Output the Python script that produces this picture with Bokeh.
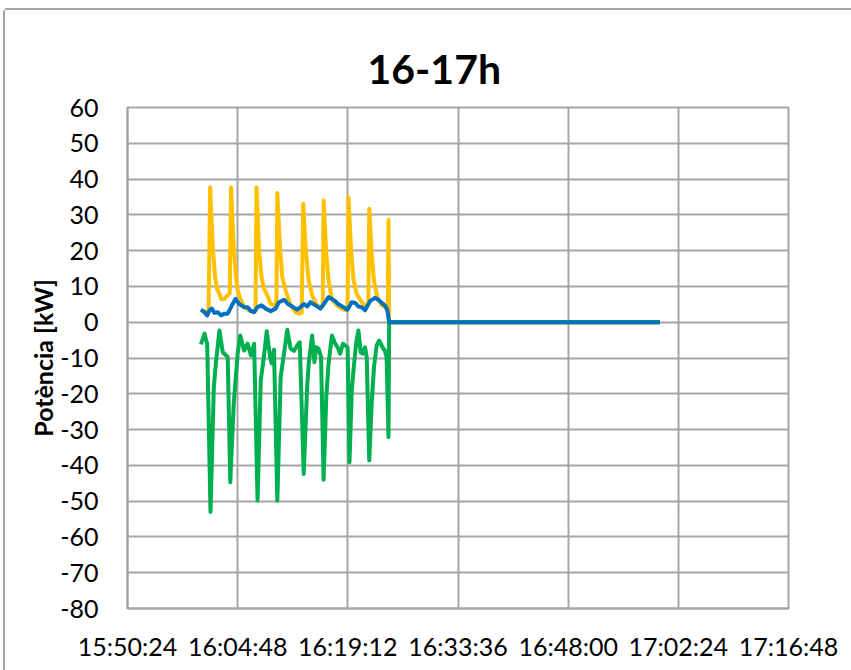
from bokeh.plotting import figure
from bokeh.models import FixedTicker, Range1d
from bokeh.embed import file_html
from bokeh.resources import INLINE

# ---------------- data ----------------
TITLE = "16-17h"
Y_LABEL = "Potència [kW]"
START = "16:00:00"  # series times are seconds after this

x_tick_labels = ["15:50:24", "16:04:48", "16:19:12", "16:33:36", "16:48:00", "17:02:24", "17:16:48"]
y_ticks = [-80, -70, -60, -50, -40, -30, -20, -10, 0, 10, 20, 30, 40, 50, 60]

yellow_t = [0, 45, 60, 72, 93, 111, 127, 145, 158, 184, 210, 226, 236, 257, 275, 288, 314, 339, 378, 417,
            428, 436, 456, 475, 495, 521, 547, 573, 592, 599, 620, 638, 664, 703, 742, 768, 790, 802, 820, 845,
            872, 911, 942, 955, 962, 983, 1001, 1027, 1066, 1105, 1139, 1150, 1157, 1178, 1196, 1222, 1261, 1300,
            1313, 1320, 1339, 1357, 1383, 1417, 1450, 1465, 1471, 1476, 3600]
yellow_kw = [3.3, 2.8, 3.3, 37.7, 21.0, 12.6, 9.3, 7.9, 6.5, 6.5, 7.5, 8.0, 37.7, 21.0, 12.6, 8.9, 6.1, 4.2, 3.3, 2.8,
             3.3, 37.7, 20.0, 12.6, 9.3, 7.5, 5.1, 4.7, 5.5, 36.1, 21.0, 12.6, 8.9, 4.7, 2.8, 2.4, 2.6, 33.1, 21.0, 11.7,
             7.5, 4.7, 4.2, 4.5, 34.0, 19.1, 11.7, 6.5, 4.7, 3.8, 3.3, 4.0, 34.9, 20.0, 12.0, 7.9, 5.6, 4.2,
             5.0, 31.7, 19.1, 11.7, 7.0, 4.7, 4.2, 4.5, 28.6, 0.0, 0.0]

green_t = [0, 28, 49, 75, 101, 119, 145, 171, 210, 230, 257, 288, 308, 339, 366, 392, 417, 444, 469, 490,
           516, 542, 555, 573, 599, 625, 651, 677, 703, 729, 755, 775, 806, 833, 845, 872, 890, 905, 923, 942,
           962, 983, 1001, 1027, 1053, 1071, 1092, 1113, 1150, 1165, 1183, 1196, 1217, 1235, 1253, 1269, 1287, 1300,
           1320, 1339, 1357, 1378, 1398, 1424, 1442, 1456, 1471, 1476, 3600]
green_kw = [-6.2, -3.2, -6.0, -53.0, -18.1, -10.7, -2.3, -8.4, -9.7, -44.7, -22.8, -8.8, -3.7, -7.9, -6.0, -9.3, -6.0, -49.8, -16.3, -10.7,
            -2.5, -9.7, -11.5, -7.7, -49.8, -15.4, -8.8, -2.1, -7.4, -8.0, -6.5, -5.6, -42.4, -18.1, -11.6, -3.7, -11.2, -7.0, -7.4, -9.7,
            -44.0, -20.9, -11.6, -3.7, -6.0, -7.0, -8.8, -6.0, -7.0, -39.1, -19.1, -13.5, -6.0, -2.3, -8.4, -8.8, -7.0, -9.7,
            -38.6, -22.8, -12.6, -6.5, -5.1, -7.0, -7.9, -9.7, -32.1, 0.0, 0.0]

blue_t = [0, 28, 49, 67, 85, 106, 132, 158, 184, 210, 236, 270, 301, 339, 366, 392, 417, 444, 475, 508,
          547, 586, 612, 651, 682, 716, 755, 781, 807, 833, 859, 898, 937, 962, 1001, 1027, 1053, 1079, 1118, 1149,
          1183, 1209, 1235, 1261, 1287, 1326, 1365, 1391, 1417, 1442, 1461, 1476, 3600]
blue_kw = [3.5, 2.8, 1.9, 3.3, 3.8, 2.6, 2.8, 1.9, 2.4, 2.4, 4.2, 6.5, 5.1, 4.2, 4.2, 3.1, 2.8, 4.2, 4.7, 3.8,
           3.1, 3.8, 5.6, 6.3, 5.1, 4.4, 3.5, 4.2, 5.1, 4.4, 5.6, 4.7, 3.8, 5.0, 7.0, 6.5, 5.9, 5.0, 4.2, 3.5,
           5.6, 5.4, 4.4, 4.2, 3.3, 5.9, 6.8, 6.3, 5.4, 4.7, 3.5, 0.0, 0.0]


def hms(s):
    h, m, sec = (int(v) for v in s.split(":"))
    return h * 3600 + m * 60 + sec


t0 = hms(START)
x_ticks = [hms(s) for s in x_tick_labels]

GRID = "#a6a6a6"
FONT = "Lato"

p = figure(width=846, height=660, output_backend="svg", toolbar_location=None,
           x_range=Range1d(x_ticks[0], x_ticks[-1]), y_range=Range1d(y_ticks[0], y_ticks[-1]),
           min_border_left=122, min_border_right=63, min_border_top=97, min_border_bottom=62,
           background_fill_color="white", border_fill_color="white",
           margin=(10, 0, 0, 5),
           styles={"box-shadow": "0 -2px 0 0 #a6a6a6, -2px 0 0 0 #a6a6a6"})

p.title.text = TITLE
p.title.align = "left"
p.title.text_font = FONT
p.title.text_font_size = "41px"
p.title.text_font_style = "bold"
p.title.text_color = "black"
p.title.offset = 240
p.title.standoff = 29

p.outline_line_color = GRID
p.outline_line_width = 2

p.xaxis.ticker = FixedTicker(ticks=x_ticks)
p.xaxis.major_label_overrides = {float(t): l for t, l in zip(x_ticks, x_tick_labels)}
p.yaxis.ticker = FixedTicker(ticks=y_ticks)
p.yaxis.major_label_overrides = {float(v): str(v) for v in y_ticks}

for ax in (p.xaxis[0], p.yaxis[0]):
    ax.axis_line_color = GRID
    ax.axis_line_width = 2
    ax.major_tick_line_color = None
    ax.minor_tick_line_color = None
    ax.major_tick_out = 0
    ax.major_tick_in = 0
    ax.major_label_text_font = FONT
    ax.major_label_text_font_size = "25px"
    ax.major_label_text_color = "black"

p.xaxis.major_label_standoff = 22
p.yaxis.major_label_standoff = 29

p.yaxis.axis_label = Y_LABEL
p.yaxis.axis_label_text_font = FONT
p.yaxis.axis_label_text_font_size = "25px"
p.yaxis.axis_label_text_font_style = "bold"
p.yaxis.axis_label_text_color = "black"
p.yaxis.axis_label_standoff = -1

p.xgrid.grid_line_color = GRID
p.ygrid.grid_line_color = GRID
p.xgrid.grid_line_width = 2
p.ygrid.grid_line_width = 2

LW = 4
p.line([t0 + t for t in yellow_t], yellow_kw, line_color="#ffc000", line_width=LW, line_join="round")
p.line([t0 + t for t in green_t], green_kw, line_color="#00b050", line_width=LW, line_join="round")
p.line([t0 + t for t in blue_t], blue_kw, line_color="#0070c0", line_width=LW, line_join="round")

open("out.html", "w").write(file_html(p, INLINE))
